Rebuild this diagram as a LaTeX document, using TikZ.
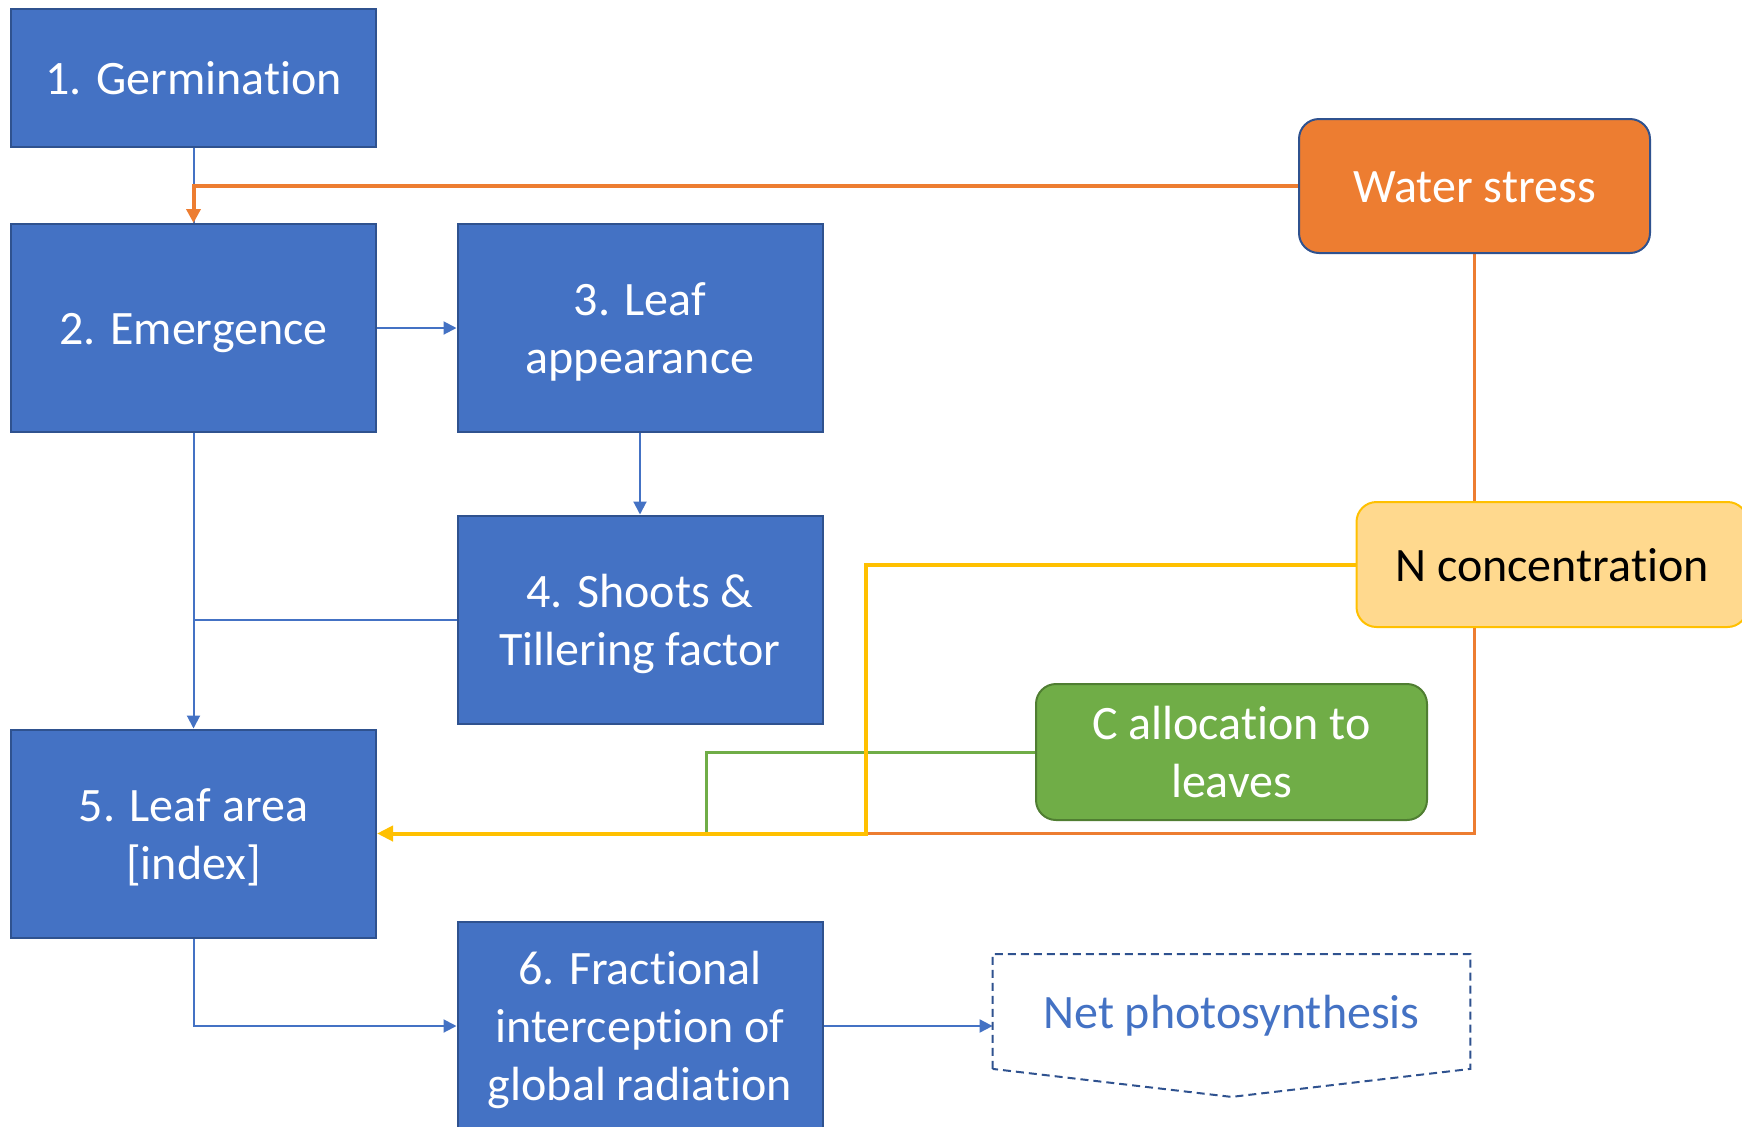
\documentclass[tikz,border=0pt]{standalone}
\usepackage{fontspec}
\setmainfont{Carlito}[Ligatures={NoCommon}]
\usetikzlibrary{arrows.meta,backgrounds,calc}
\definecolor{boxblue}{HTML}{4472C4}
\definecolor{edgeblue}{HTML}{2F528F}
\definecolor{wsorange}{HTML}{ED7D31}
\definecolor{ngold}{HTML}{FFC000}
\definecolor{nfill}{HTML}{FFD98E}
\definecolor{cgreen}{HTML}{70AD47}
\definecolor{cedge}{HTML}{507E32}

% centred label lines, set a little low in their box
\newcommand{\boxlabel}[1]{\raisebox{-2.5pt}[\height][\depth]{\begin{tabular}{@{}c@{}}#1\end{tabular}}}

\begin{document}
\begin{tikzpicture}[x=0.5pt,y=-0.5pt,
  every node/.style={font=\fontsize{24}{29}\selectfont, inner sep=0pt},
  stage/.style={draw=edgeblue, line width=1pt, fill=boxblue, text=white,
    minimum width=182.5pt, minimum height=104pt},
  factor/.style={line width=1pt, rounded corners=10pt,
    minimum width=195.5pt},
  bline/.style={draw=boxblue, line width=1pt},
  barrow/.style={bline, -{Triangle[length=6.5pt,width=6.5pt]}},
  oline/.style={draw=wsorange, line width=2pt},
  yline/.style={draw=ngold, line width=2pt},
  gline/.style={draw=cgreen, line width=1.5pt},
  npdash/.style={draw=edgeblue, line width=1pt, dash pattern=on 4pt off 2.5pt}
]
\useasboundingbox (0,0) rectangle (1742,1126);

% development stages
\node[stage, minimum height=69pt] (g)  at (193.5,78) {\boxlabel{1. Germination}};
\node[stage] (e)   at (193.5,328)   {\boxlabel{2. Emergence}};
\node[stage] (la)  at (640,328)     {\boxlabel{3. Leaf\\appearance}};
\node[stage] (sh)  at (640,619.5)   {\boxlabel{4. Shoots \&\\Tillering factor}};
\node[stage] (lai) at (193.5,833.5) {\boxlabel{5. Leaf area\\{[index]}}};
\node[stage] (fi)  at (640,1026)    {\boxlabel{6. Fractional\\interception of\\global radiation}};

% modifying factors
\node[factor, draw=edgeblue, fill=wsorange, text=white,
      minimum width=175.5pt, minimum height=67pt] (ws) at (1474.5,186) {\boxlabel{Water stress}};
\node[factor, draw=ngold, fill=nfill, text=black,
      minimum height=62.5pt] (nc) at (1552,564.5) {\boxlabel{N concentration}};
\node[factor, draw=cedge, fill=cgreen, text=white,
      minimum height=68pt] (ca) at (1231.5,752) {\boxlabel{C allocation to\\leaves}};

% output
\node[text=boxblue, minimum width=238.5pt, minimum height=57pt] (np) at (1231.5,1011.5) {\boxlabel{Net photosynthesis}};
\draw[npdash] (np.south west) -- (np.north west) -- (np.north east)
  -- (np.south east) -- ($(np.south)+(0,28)$) -- cycle;

\coordinate (yj) at (866,833.5);
\coordinate (gj) at (706,833.5);

\begin{scope}[on background layer]
  % stage flow
  \draw[bline] (g.south) -- (e.north);
  \draw[barrow] (e.east) -- (la.west);
  \draw[barrow] (la.south) -- (sh.north);
  \draw[barrow] (e.south) -- (lai.north);
  \draw[bline] (sh.west) -- (sh.west -| e.south);
  \draw[barrow] (lai.south) |- (fi.west);
  \draw[barrow] (fi.east) -- (fi.east -| np.west);
  % factor links
  \draw[oline, -{Triangle[length=7pt,width=7pt]}] (ws.west) -| (e.north);
  \draw[oline, line width=1.75pt] (ws.south) -- (ws.south |- yj) -- (yj);
  \draw[gline] (ca.west) -| (gj);
  \draw[yline, -{Triangle[length=8pt,width=7.5pt]}] (nc.west) -| (yj) -- (lai.east);
\end{scope}
\end{tikzpicture}
\end{document}
